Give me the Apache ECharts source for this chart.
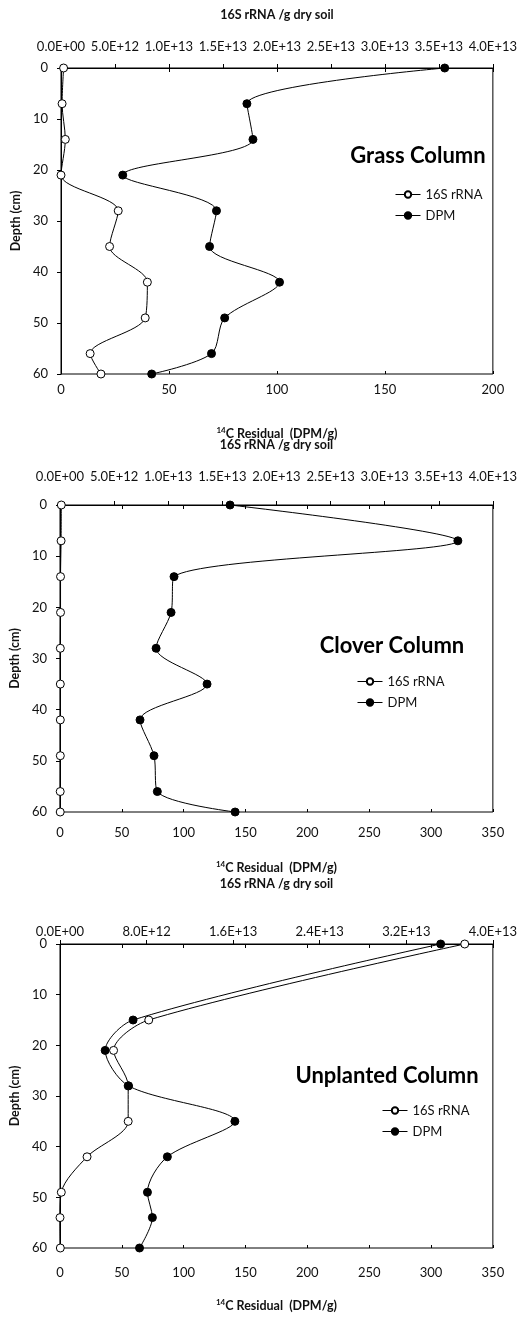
<!DOCTYPE html>
<html>
<head>
<meta charset="utf-8">
<script src="https://cdn.jsdelivr.net/npm/echarts@6/dist/echarts.min.js"></script>
<style>
html,body{margin:0;padding:0;background:#fff;}
#chart{width:520px;height:1319px;}
</style>
</head>
<body>
<div id="chart"></div>
<script>
// ---- data ----
var panelTitles = ['Grass Column', 'Clover Column', 'Unplanted Column'];
var seriesNames = ['16S rRNA', 'DPM'];

var depthGrass = [0, 7, 14, 21, 28, 35, 42, 49, 56, 60];
var grassRNA = [2.4e11, 1.0e11, 4.0e11, 0, 5.3e12, 4.5e12, 8.0e12, 7.8e12, 2.7e12, 3.7e12];
var grassDPM = [177.7, 86.1, 88.9, 28.6, 72.0, 68.8, 101.2, 75.8, 69.7, 42.0];

var depthClover = [0, 7, 14, 21, 28, 35, 42, 49, 56, 60];
var cloverRNA = [1.2e11, 1.0e11, 5e10, 5e10, 3e10, 3e10, 3e10, 3e10, 2e10, 2e10];
var cloverDPM = [137.5, 321.7, 92.2, 89.8, 77.7, 118.9, 64.7, 76.0, 78.7, 141.6];

var depthUnpl = [0, 15, 21, 28, 35, 42, 49, 54, 60];
var unplRNA = [3.74e13, 8.2e12, 4.95e12, 6.3e12, 6.3e12, 2.5e12, 1.2e11, 0, 3e10];
var unplDPM = [307.8, 59.1, 36.5, 55.4, 141.4, 86.8, 70.7, 74.7, 64.3];

var dpmMax = [200, 350, 350];
var dpmInterval = [50, 50, 50];
var rnaMax = [4e13, 4e13, 4e13];
var rnaInterval = [5e12, 5e12, 8e12];
var depthMax = 60, depthInterval = 10;

// ---- layout ----
var FONT = 'Lato';
var TXT = '#111';
var grids = [
  {left: 61, top: 68, width: 433, height: 306},
  {left: 60, top: 505, width: 433, height: 307},
  {left: 60, top: 944, width: 434, height: 304}
];
var topLabelMargin = [15, 22, 6];
var topNameGap = [47, 54, 54];
var botLabelMargin = [9, 14, 18];
var botNameGap = [52, 48, 50];
var titlePos = [[418, 156], [392, 646], [387, 1076]];
var legendPos = [[395, 188], [357, 675], [382, 1104]];

function sci(v) {
  if (v === 0) return '0.0E+00';
  var e = Math.floor(Math.log10(v) + 1e-9);
  var m = v / Math.pow(10, e);
  return m.toFixed(1) + 'E+' + (e < 10 ? '0' : '') + e;
}
function pairs(xs, ys) { return xs.map(function (x, i) { return [x, ys[i]]; }); }

var panels = [
  {depth: depthGrass, rna: grassRNA, dpm: grassDPM},
  {depth: depthClover, rna: cloverRNA, dpm: cloverDPM},
  {depth: depthUnpl, rna: unplRNA, dpm: unplDPM}
];

var option = {
  animation: false,
  backgroundColor: '#fff',
  textStyle: {fontFamily: FONT, color: TXT},
  grid: [], xAxis: [], yAxis: [], series: [], legend: [], graphic: []
};

panels.forEach(function (p, i) {
  var g = grids[i];
  option.grid.push({left: g.left, top: g.top, width: g.width, height: g.height,
    show: true, borderColor: '#000', borderWidth: 1, backgroundColor: 'transparent'});
  // bottom DPM axis
  option.xAxis.push({
    gridIndex: i, type: 'value', position: 'bottom', min: 0, max: dpmMax[i], interval: dpmInterval[i],
    axisLine: {show: true, lineStyle: {color: '#000', width: 1}},
    axisTick: {show: true, inside: false, length: 4, lineStyle: {color: '#000'}},
    axisLabel: {margin: botLabelMargin[i], fontSize: 13, fontFamily: FONT, color: TXT},
    splitLine: {show: false},
    name: '{s|14}{b|C Residual  (DPM/g)}', nameLocation: 'middle', nameGap: botNameGap[i],
    nameTextStyle: {fontFamily: FONT, color: TXT, rich: {
      s: {fontSize: 8, fontWeight: 'bold', fontFamily: FONT, color: TXT, verticalAlign: 'top', lineHeight: 15},
      b: {fontSize: 12.5, fontWeight: 'bold', fontFamily: FONT, color: TXT, lineHeight: 15}
    }}
  });
  // top 16S axis
  option.xAxis.push({
    gridIndex: i, type: 'value', position: 'top', min: 0, max: rnaMax[i], interval: rnaInterval[i],
    axisLine: {show: true, lineStyle: {color: '#000', width: 1}},
    axisTick: {show: true, inside: false, length: 4, lineStyle: {color: '#000'}},
    axisLabel: {margin: topLabelMargin[i], fontSize: 13, fontFamily: FONT, color: TXT, formatter: sci},
    splitLine: {show: false},
    name: '16S rRNA /g dry soil', nameLocation: 'middle', nameGap: topNameGap[i],
    nameTextStyle: {fontSize: 12.5, fontWeight: 'bold', fontFamily: FONT, color: TXT}
  });
  // helper bottom axis for inward half of cross ticks
  option.xAxis.push({
    gridIndex: i, type: 'value', position: 'bottom', min: 0, max: dpmMax[i], interval: dpmInterval[i],
    axisLine: {show: false}, axisLabel: {show: false}, splitLine: {show: false},
    axisTick: {show: true, inside: true, length: 3, lineStyle: {color: '#000'}}
  });
  option.yAxis.push({
    gridIndex: i, type: 'value', inverse: true, min: 0, max: depthMax, interval: depthInterval,
    axisLine: {show: true, lineStyle: {color: '#000', width: 1}},
    axisTick: {show: true, inside: false, length: 4, lineStyle: {color: '#000'}},
    axisLabel: {margin: 13, fontSize: 13, fontFamily: FONT, color: TXT},
    splitLine: {show: false},
    name: 'Depth (cm)', nameLocation: 'middle', nameGap: 32,
    nameTextStyle: {fontSize: 12.5, fontWeight: 'bold', fontFamily: FONT, color: TXT}
  });
  option.series.push({
    name: seriesNames[0], type: 'line', xAxisIndex: i * 3 + 1, yAxisIndex: i,
    data: pairs(p.rna, p.depth), smooth: 0.3, clip: false,
    symbol: 'circle', symbolSize: 8,
    lineStyle: {color: '#000', width: 1},
    itemStyle: {color: '#fff', borderColor: '#000', borderWidth: 1}
  });
  option.series.push({
    name: seriesNames[1], type: 'line', xAxisIndex: i * 3, yAxisIndex: i,
    data: pairs(p.dpm, p.depth), smooth: 0.3, clip: false,
    symbol: 'circle', symbolSize: 8,
    lineStyle: {color: '#000', width: 1},
    itemStyle: {color: '#000', borderColor: '#000', borderWidth: 1}
  });
  option.legend.push({
    data: seriesNames, orient: 'vertical', left: legendPos[i][0], top: legendPos[i][1],
    itemWidth: 25, itemHeight: 8, itemGap: 8, selectedMode: false, padding: 0,
    lineStyle: {width: 1, color: '#000'},
    textStyle: {fontSize: 13, fontFamily: FONT, color: TXT, padding: [0, 0, 0, 0]}
  });
  option.graphic.push({
    type: 'text', x: titlePos[i][0], y: titlePos[i][1], z: 10,
    style: {text: panelTitles[i], fill: '#000', font: 'bold 22px ' + FONT, textAlign: 'center', textVerticalAlign: 'middle'}
  });
});

var chart = echarts.init(document.getElementById('chart'), null, {renderer: 'canvas'});
chart.setOption(option);
</script>
</body>
</html>
